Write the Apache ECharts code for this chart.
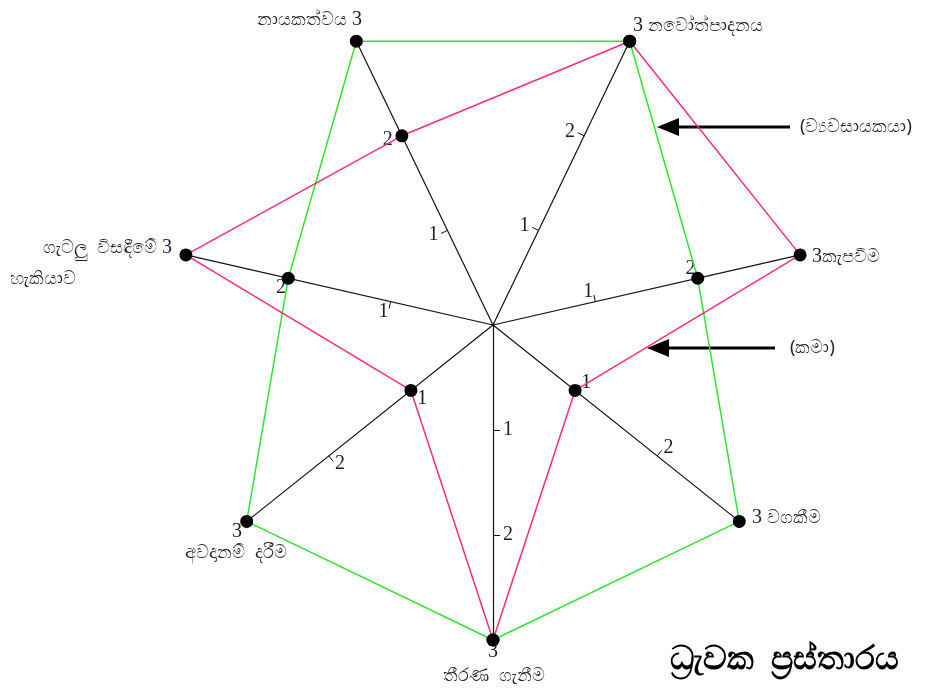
<!DOCTYPE html>
<html><head><meta charset="utf-8">
<script src="https://cdn.jsdelivr.net/npm/echarts@6/dist/echarts.min.js"></script>
<style>html,body{margin:0;padding:0;background:#fff}#c{width:941px;height:690px}</style>
</head><body><div id="c"></div>
<script>
// indicator order: counterclockwise starting from the bottom axis
const axisNames = ['තීරණ ගැනීම', 'වගකීම', 'කැපවීම', 'නවෝත්පාදනය', 'නායකත්වය', 'ගැටලු විසඳීමේ හැකියාව', 'අවදානම් දරීම'];
const axisMax = [3, 3, 3, 3, 3, 3, 3];
const tickValues = [1, 2];
const tickLabels = ['1', '2'];
const entrepreneur = [3, 3, 2, 3, 3, 2, 3];
const ordinary = [3, 1, 3, 3, 2, 3, 1];
const seriesNames = ['(ව්‍යවසායකයා)', '(කමා)'];
const chartTitle = 'ධ්‍රැවක  ප්‍රස්තාරය';

const chart = echarts.init(document.getElementById('c'), null, {renderer: 'canvas'});

const SANS = 'Noto Sans, DejaVu Sans, sans-serif';
const SERIF = 'Liberation Serif, serif';
const rich = {
  n: {fontFamily: SERIF, fontSize: 20, fill: '#1a1a3a', color: '#1a1a3a'},
  s: {fontFamily: SANS, fontSize: 18, fill: '#222', color: '#222'}
};

function rtxt(text, x, y, align) {
  return {type: 'text', x: x, y: y, style: {text: text, rich: rich, textAlign: align, textVerticalAlign: 'middle', fontFamily: SANS, fontSize: 18, fill: '#222'}};
}
const m = i => '{n|' + axisMax[i] + '}';
const s = t => '{s|' + t + '}';
const leftParts = axisNames[5].split(' ');
const nameGraphics = [
  // bottom
  rtxt(m(0), 493, 652, 'center'),
  rtxt(s(axisNames[0].replace(' ', '  ')), 494, 676, 'center'),
  // bottom-right
  rtxt(m(1) + s(' ' + axisNames[1]), 752, 518, 'left'),
  // right
  rtxt(m(2) + s(axisNames[2]), 812, 257, 'left'),
  // top-right
  rtxt(m(3) + s(' ' + axisNames[3]), 633, 26, 'left'),
  // top-left
  rtxt(s(axisNames[4] + ' ') + m(4), 362, 20, 'right'),
  // left
  rtxt(s(leftParts[0] + '  ' + leftParts[1] + ' ') + m(5), 172, 248, 'right'),
  rtxt(s(leftParts[2]), 10, 279, 'left'),
  // bottom-left
  rtxt(m(6), 237, 532, 'center'),
  rtxt(s(axisNames[6].replace(' ', '  ')), 236, 553, 'center')
];

const arrowGraphics = [
  {type: 'line', shape: {x1: 790, y1: 127, x2: 672, y2: 127}, style: {stroke: '#000', lineWidth: 3}},
  {type: 'polygon', shape: {points: [[657, 127], [679, 118], [679, 136]]}, style: {fill: '#000'}},
  rtxt(s(seriesNames[0]), 800, 127, 'left'),
  {type: 'line', shape: {x1: 775, y1: 348, x2: 662, y2: 348}, style: {stroke: '#000', lineWidth: 3}},
  {type: 'polygon', shape: {points: [[647, 348], [669, 339], [669, 357]]}, style: {fill: '#000'}},
  rtxt(s(seriesNames[1]), 790, 348, 'left'),
  {type: 'text', x: 670, y: 660, style: {text: chartTitle, textAlign: 'left', textVerticalAlign: 'middle', fontFamily: SANS, fontSize: 33, fontWeight: 'bold', fill: '#000'}}
];

chart.setOption({
  animation: false,
  backgroundColor: '#fff',
  radar: {
    center: [493, 325],
    radius: 315,
    startAngle: -90,
    splitNumber: 3,
    indicator: axisNames.map((n, i) => ({name: n, min: 0, max: axisMax[i]})),
    axisName: {show: false},
    splitLine: {show: false},
    splitArea: {show: false},
    axisLine: {lineStyle: {color: '#111', width: 1.2}},
    axisTick: {show: true, length: 7, customValues: tickValues, lineStyle: {color: '#111', width: 1}},
    axisLabel: {
      show: true, margin: 10, color: '#1a1a3a', fontFamily: SERIF, fontSize: 20,
      customValues: tickValues,
      formatter: v => tickLabels.includes(String(v)) ? String(v) : ''
    }
  },
  series: [{
    type: 'radar',
    symbol: 'circle',
    symbolSize: 13,
    data: [
      {name: seriesNames[0], value: entrepreneur, lineStyle: {color: '#2ee62e', width: 1.5}, itemStyle: {color: '#000'}},
      {name: seriesNames[1], value: ordinary, lineStyle: {color: '#ff2a7f', width: 1.5}, itemStyle: {color: '#000'}}
    ]
  }],
  graphic: nameGraphics.concat(arrowGraphics)
});
</script>
</body></html>
